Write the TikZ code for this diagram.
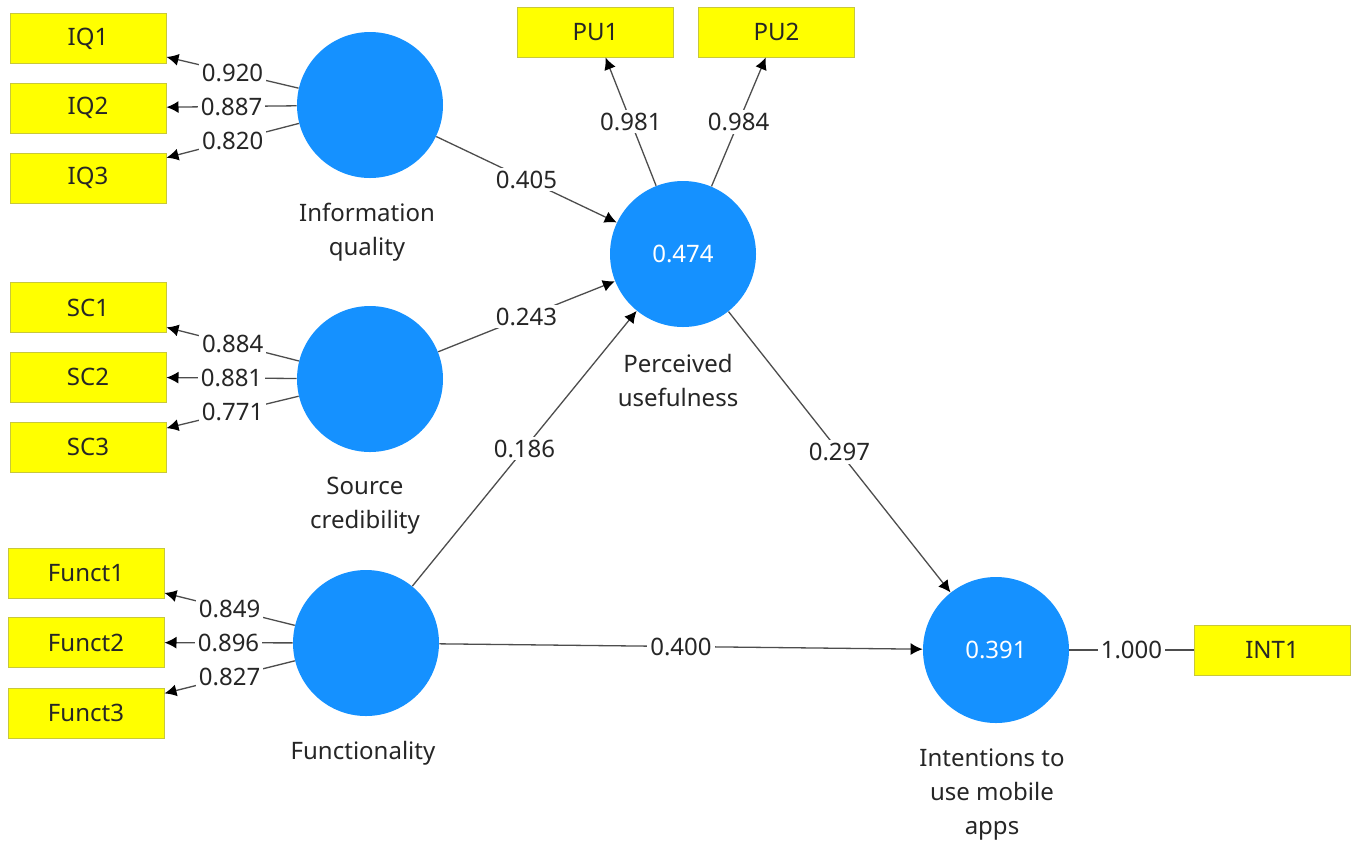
\documentclass[tikz,border=0pt]{standalone}
\usepackage{fontspec}
\setmainfont{Noto Sans}
\usetikzlibrary{positioning,arrows.meta}
\begin{document}
\begin{tikzpicture}[x=0.5pt,y=-0.5pt]
    \definecolor{collatent}{HTML}{1591FF}
    \definecolor{colitem}{HTML}{FFFF00}
    \definecolor{colitemline}{HTML}{C8C83C}
    \definecolor{colline}{HTML}{4D4D4D}
    \definecolor{coltext}{HTML}{262626}
    \tikzstyle{latent}=[circle,fill=collatent,minimum size=73pt,inner sep=0pt,
                        text=white,font=\fontsize{12}{14}\selectfont]
    \tikzstyle{item}=[rectangle,fill=colitem,draw=colitemline,line width=0.5pt,
                      minimum width=78pt,minimum height=25pt,inner sep=0pt,
                      text=coltext,font=\fontsize{12}{14}\selectfont]
    \tikzstyle{cname}=[align=center,text=coltext,font=\fontsize{12}{17}\selectfont]
    \tikzstyle{coef}=[fill=white,inner sep=1.5pt,text=coltext,font=\fontsize{12}{14}\selectfont]
    \tikzstyle{arrowline}=[colline,line width=0.65pt,-{Latex[length=6pt,width=6pt,color=black]}]
    \tikzstyle{plainline}=[colline,line width=0.65pt]
    % canvas
    \fill[white] (0,0) rectangle (1360,848);
    \useasboundingbox (0,0) rectangle (1360,848);
    % constructs
    \node[latent] (IQ) at (370,105) {};
    \node[latent] (SC) at (370,379) {};
    \node[latent] (FU) at (366,643) {};
    \node[latent] (PU) at (683,254) {0.474};
    \node[latent] (INT) at (996,650) {0.391};
    % construct names
    \node[cname] (IQname) at (367,232) {Information\\quality};
    \node[cname] (SCname) at (365,506) {Source\\credibility};
    \node[cname] (FUname) at (363,753) {Functionality};
    \node[cname] (PUname) at (678,380) {Perceived\\usefulness};
    \node[cname] (INTname) at (992,795) {Intentions to\\use mobile\\apps};
    % indicators
    \node[item] (IQ1) at (88,38.5) {IQ1};
    \node[item] (IQ2) at (88,108) {IQ2};
    \node[item] (IQ3) at (88,178) {IQ3};
    \node[item] (SC1) at (88,307.5) {SC1};
    \node[item] (SC2) at (88,377) {SC2};
    \node[item] (SC3) at (88,447) {SC3};
    \node[item] (FU1) at (86,573.5) {Funct1};
    \node[item] (FU2) at (86,642.5) {Funct2};
    \node[item] (FU3) at (86,713) {Funct3};
    \node[item] (PU1) at (595.5,32) {PU1};
    \node[item] (PU2) at (776.5,32) {PU2};
    \node[item] (INT1) at (1272,650) {INT1};
    % outer loadings
    \draw[arrowline] (IQ) -- node[coef] {0.920} (IQ1);
    \draw[arrowline] (IQ) -- node[coef] {0.887} (IQ2);
    \draw[arrowline] (IQ) -- node[coef] {0.820} (IQ3);
    \draw[arrowline] (SC) -- node[coef] {0.884} (SC1);
    \draw[arrowline] (SC) -- node[coef] {0.881} (SC2);
    \draw[arrowline] (SC) -- node[coef] {0.771} (SC3);
    \draw[arrowline] (FU) -- node[coef] {0.849} (FU1);
    \draw[arrowline] (FU) -- node[coef] {0.896} (FU2);
    \draw[arrowline] (FU) -- node[coef] {0.827} (FU3);
    \draw[arrowline] (PU) -- node[coef] {0.981} (PU1);
    \draw[arrowline] (PU) -- node[coef] {0.984} (PU2);
    \draw[plainline] (INT) -- node[coef] {1.000} (INT1);
    % path coefficients
    \draw[arrowline] (IQ) -- node[coef] {0.405} (PU);
    \draw[arrowline] (SC) -- node[coef] {0.243} (PU);
    \draw[arrowline] (FU) -- node[coef] {0.186} (PU);
    \draw[arrowline] (PU) -- node[coef] {0.297} (INT);
    \draw[arrowline] (FU) -- node[coef] {0.400} (INT);
\end{tikzpicture}
\end{document}
